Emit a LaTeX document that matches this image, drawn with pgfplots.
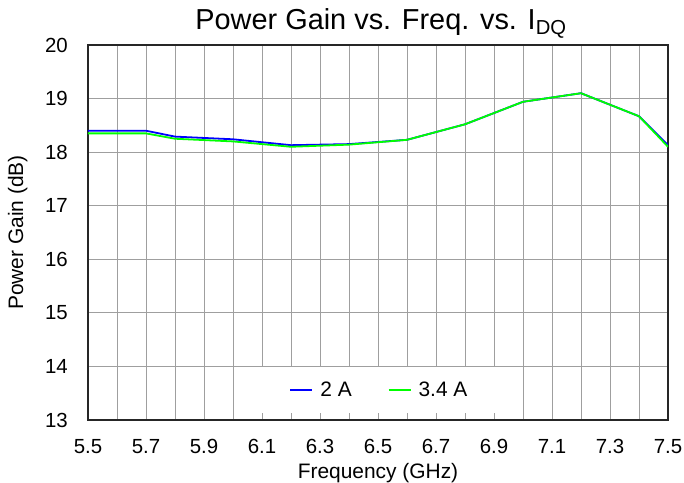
\documentclass[border=0pt]{standalone}
\usepackage{pgfplots}
\pgfplotsset{compat=1.18}
\usepackage{fontspec}
\setmainfont{Liberation Sans}
\begin{document}
\begin{tikzpicture}
\begin{axis}[
  at={(0,0)}, anchor=south west,
  scale only axis, width=580bp, height=375bp,
  xmin=5.5, xmax=7.5, ymin=13, ymax=20,
  xtick={5.5,5.7,...,7.5},
  xticklabels={5.5,5.7,5.9,6.1,6.3,6.5,6.7,6.9,7.1,7.3,7.5},
  minor xtick={5.6,5.8,...,7.4},
  ytick={13,14,...,20},
  grid=both,
  major grid style={gray!75, line width=0.8pt},
  minor grid style={gray!75, line width=0.8pt},
  major tick length=0pt, minor tick length=0pt,
  axis line style={black!85, line width=1.4pt},
  /pgf/number format/assume math mode=true,
  ticklabel style={font=\fontsize{20.5}{24}\selectfont},
  xticklabel style={anchor=base, yshift=-33bp},
  yticklabel style={anchor=east, inner sep=0pt, xshift=-20bp},
  xlabel={Frequency (GHz)},
  ylabel={Power Gain (dB)},
  xlabel style={font=\fontsize{21}{24}\selectfont, at={(axis description cs:0.5,0)}, anchor=base, yshift=-58bp},
  ylabel style={font=\fontsize{21}{24}\selectfont, at={(axis description cs:-0.112,0.5)}, anchor=base},
  title={Power Gain vs. Freq. vs. I\textsubscript{DQ}},
  title style={font=\fontsize{29}{32}\selectfont, at={(axis description cs:0.5,1)}, anchor=base, yshift=10bp, xshift=3bp},
  legend style={at={(0.5026,0.0187)}, anchor=south, draw=none, fill=white,
    font=\fontsize{21}{24}\selectfont, inner xsep=34bp, inner ysep=13bp},
  legend columns=2,
  legend cell align=left,
  legend image code/.code={\draw[#1] (0bp,0bp) -- (22bp,0bp); \path (27bp,0bp);},
  /tikz/every even column/.append style={column sep=34bp},
]
\addplot[blue, line width=1.8pt] coordinates {
(5.5,18.40) (5.7,18.40) (5.8,18.29) (6.0,18.24) (6.2,18.13) (6.4,18.15) (6.6,18.23) (6.8,18.52) (7.0,18.94) (7.2,19.10) (7.4,18.67) (7.5,18.13)};
\addlegendentry{2 A}
\addplot[green, line width=1.8pt] coordinates {
(5.5,18.35) (5.7,18.35) (5.8,18.25) (6.0,18.20) (6.2,18.10) (6.4,18.14) (6.6,18.23) (6.8,18.52) (7.0,18.94) (7.2,19.10) (7.4,18.67) (7.5,18.10)};
\addlegendentry{3.4 A}
\end{axis}
\pgfresetboundingbox
\path (-88bp,-63bp) rectangle (596bp,420bp);
\end{tikzpicture}
\end{document}
